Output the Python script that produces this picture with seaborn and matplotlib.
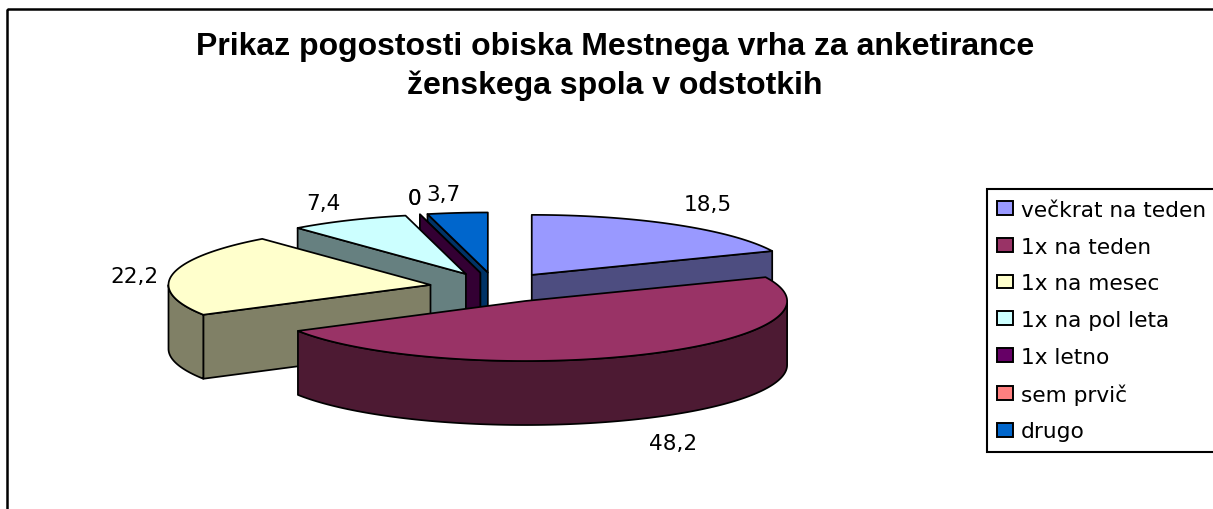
import numpy as np
import matplotlib
matplotlib.use("Agg")
import matplotlib.pyplot as plt
from matplotlib.patches import Polygon, Patch, Rectangle
import seaborn as sns

title = "Prikaz pogostosti obiska Mestnega vrha za anketirance\nženskega spola v odstotkih"
categories = ["večkrat na teden", "1x na teden", "1x na mesec", "1x na pol leta",
              "1x letno", "sem prvič", "drugo"]
values = [18.5, 48.2, 22.2, 7.4, 0, 0, 3.7]

top_colors = ["#9999FF", "#993366", "#FFFFCC", "#CCFFFF", "#660066", "#FF8080", "#0066CC"]
side_colors = ["#4D4D80", "#4D1A33", "#808066", "#668080", "#330033", "#804040", "#003366"]
label_offsets = [(32, -21), (30, 88), (-38, 2), (-25, -17), (-5, -16), (-5, -16), (-14, -19)]

# Pie layout, in canvas pixels
CX, CY, RX, RY, DEPTH, EXPLODE = 495.5, 288.5, 262.0, 60.0, 64.0, 0.252
LW = 1.25
TEXT_FONT = ["DejaVu Sans", "Liberation Sans"]

sns.set_theme(style="white")
plt.rcParams["font.family"] = ["Liberation Sans", "DejaVu Sans"]

fig = plt.figure(figsize=(12.13, 5.10), dpi=100)
ax = fig.add_axes([0, 0, 1, 1])
ax.set_xlim(0, 1213)
ax.set_ylim(510, 0)
ax.axis("off")

# Outer chart frame
ax.add_patch(Rectangle((7.3, 10), 1300, 600, fill=False, ec="black", lw=1.8, clip_on=True))


def rim(angle, ax0, ay0):
    t = np.radians(angle)
    return np.array([ax0 + RX * np.sin(t), ay0 - RY * np.cos(t)])


def face(points, color, z):
    ax.add_patch(Polygon(points, closed=True, fc=color, ec="black", lw=LW,
                         joinstyle="round", zorder=z))


v = np.array(values, dtype=float)
spans = v / v.sum() * 360.0
starts = np.concatenate([[0.0], np.cumsum(spans)[:-1]])
mids = starts + spans / 2

order = sorted(range(len(v)), key=lambda i: (-np.cos(np.radians(mids[i])), -i))
down = np.array([0, DEPTH])
z = 3.0
for i in order:
    a0, a1, m = starts[i], starts[i] + spans[i], mids[i]
    apex = np.array([CX + EXPLODE * RX * np.sin(np.radians(m)),
                     CY - EXPLODE * RY * np.cos(np.radians(m))])
    ref = rim(m, *apex)
    arc = [rim(a, *apex) for a in np.linspace(a0, a1, max(int(spans[i] * 2), 2))]

    # cut faces
    for edge_angle in (a0, a1):
        p = rim(edge_angle, *apex)
        if abs(p[0] - apex[0]) < 1e-6:
            continue
        if spans[i] == 0:
            visible = edge_angle == a0 and i != 5
        else:
            line_y = apex[1] + (p[1] - apex[1]) * (ref[0] - apex[0]) / (p[0] - apex[0])
            visible = ref[1] < line_y
        if visible:
            face([apex, p, p + down, apex + down], side_colors[i], z)
            z += 0.01

    # curved outer wall: only the front half of the rim shows
    lo, hi = max(a0, 90.0), min(a1, 270.0)
    if hi > lo:
        front = [rim(a, *apex) for a in np.linspace(lo, hi, 120)]
        face(front + [q + down for q in front[::-1]], side_colors[i], z)
        z += 0.01

    # top surface
    if spans[i] > 0:
        face([apex] + arc, top_colors[i], z)
        z += 0.01

    ax.annotate(f"{values[i]:g}".replace(".", ","), xy=ref,
                xytext=(label_offsets[i][0], -label_offsets[i][1]),
                textcoords="offset pixels", ha="center", va="center",
                fontsize=15.6, family=TEXT_FONT, color="black", zorder=20)

ax.text(615, 66.5, title, ha="center", va="center", fontsize=23, fontweight="bold",
        color="black", linespacing=1.34, zorder=20)

handles = [Patch(fc=c, ec="black", lw=1.4) for c in top_colors]
leg = ax.legend(handles, categories, loc="upper left", bbox_to_anchor=(986.5, 190),
                bbox_transform=ax.transData, frameon=True, fancybox=False,
                edgecolor="black", facecolor="white", framealpha=1,
                prop={"family": TEXT_FONT, "size": 15.6}, labelcolor="black",
                borderaxespad=0, borderpad=0.5,
                labelspacing=0.77, handlelength=0.7, handleheight=0.6, handletextpad=0.37)
leg.get_frame().set_linewidth(1.5)
leg.set_zorder(30)

fig.savefig("out.png", dpi=100, facecolor="white")
